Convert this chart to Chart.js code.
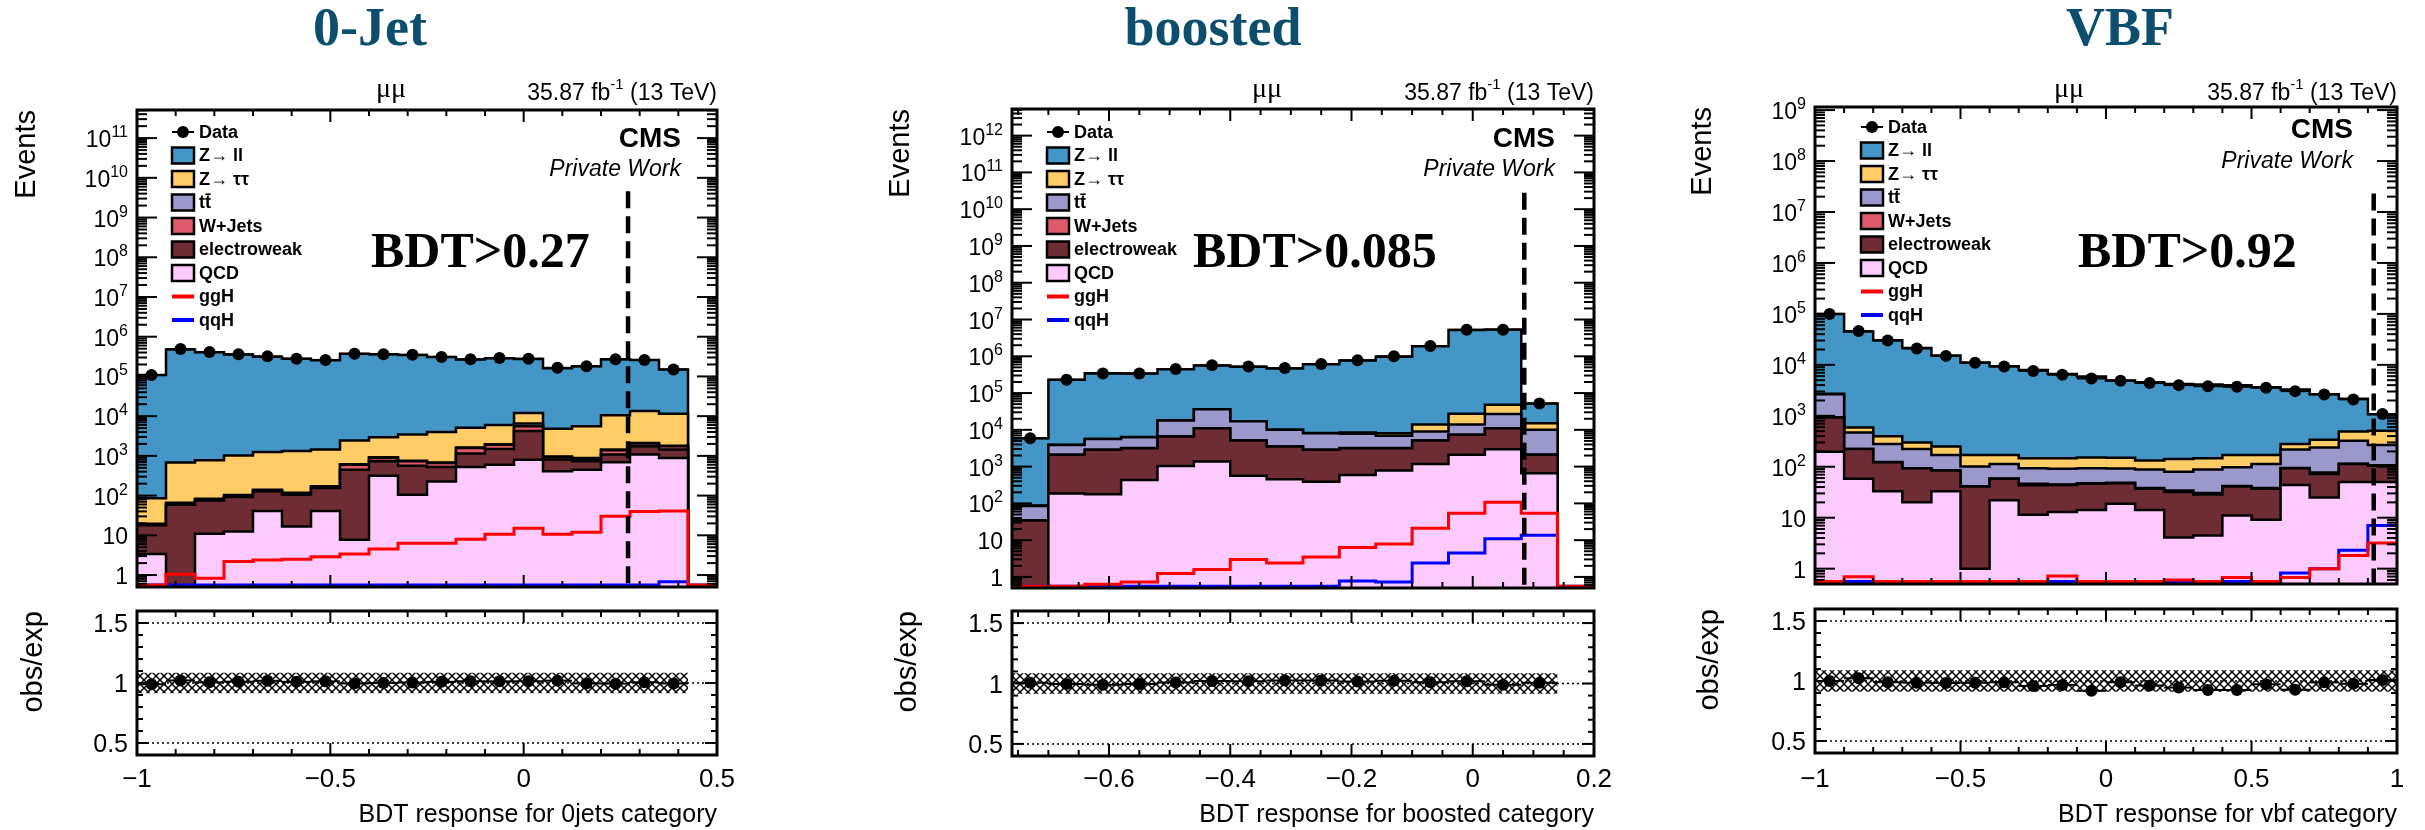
<!DOCTYPE html>
<html>
<head>
<meta charset="utf-8">
<script src="https://cdn.jsdelivr.net/npm/chart.js@4.4.0/dist/chart.umd.min.js"></script>
<style>
html, body { margin: 0; padding: 0; background: #fff; }
#wrap { position: relative; width: 2425px; height: 830px; overflow: hidden; }
#wrap canvas { position: absolute; left: 0; top: 0; }
</style>
</head>
<body>
<div id="wrap"></div>
<script>
// ---------------- data ----------------
// 0-Jet: 20 bins of 0.075 from -1
const jet0Data  = [108000, 490000, 410000, 360000, 320000, 280000, 260000, 370000, 360000, 350000, 310000, 270000, 290000, 280000, 165000, 180000, 270000, 260000, 150000, 0];
const jet0Zll   = [109000, 479000, 407000, 355000, 313000, 276000, 255000, 369000, 357000, 345000, 303000, 261000, 280000, 264000, 157000, 175000, 261000, 245000, 139000, 0];
const jet0Ztt   = [66, 620, 690, 920, 1120, 1200, 1270, 1830, 2030, 2700, 3320, 3470, 4040, 5500, 3840, 4720, 9060, 11300, 9700, 0];
const jet0TT    = [1, 5, 6, 8, 10, 10, 12, 20, 30, 25, 25, 50, 60, 900, 30, 30, 60, 80, 70, 0];
const jet0WJets = [0.5, 2, 2, 3, 3, 3, 4, 150, 160, 165, 135, 440, 410, 1400, 125, 120, 300, 300, 300, 0];
const jet0EWK   = [14.6, 59, 64, 80, 87, 88, 114, 442, 413, 460, 297, 615, 890, 3400, 402, 280, 390, 660, 550, 0];
const jet0QCD   = [3.4, 0, 11, 12.4, 41, 16.6, 41, 7.7, 317, 105, 228, 525, 600, 800, 408, 450, 690, 1080, 890, 0];
const jet0GGH   = [0, 1.04, 0.83, 2.2, 2.4, 2.5, 2.9, 3.4, 4.5, 6.3, 6.3, 8, 10.6, 15, 10.6, 12, 30, 40, 41, 0];
const jet0QQH   = [0, 0, 0, 0, 0, 0, 0, 0, 0, 0, 0, 0, 0, 0, 0, 0, 0, 0, 0.68, 0];

// boosted: 16 bins of 0.06 from -0.76
const boostData  = [5900, 230000, 340000, 340000, 450000, 570000, 530000, 480000, 620000, 780000, 1000000, 1900000, 5300000, 5300000, 52000, 0];
const boostZll   = [5780, 227000, 338000, 335000, 428000, 522000, 503000, 458000, 597000, 759000, 970000, 1865000, 5174000, 5311000, 36700, 0];
const boostZtt   = [2, 30, 40, 50, 100, 200, 100, 80, 60, 700, 1200, 5000, 13500, 21000, 5000, 0];
const boostTT    = [51, 1780, 2710, 3100, 11300, 24900, 11900, 6460, 5210, 4600, 3700, 3850, 6630, 15900, 7880, 0];
const boostWJets = [0, 20, 30, 30, 60, 100, 50, 40, 30, 30, 30, 50, 70, 100, 20, 0];
const boostEWK   = [34, 1910, 2680, 2740, 5560, 9630, 4540, 3050, 2470, 2580, 2390, 3920, 5200, 8050, 1440, 0];
const boostQCD   = [0, 187, 177, 435, 1040, 1370, 560, 450, 390, 590, 780, 1180, 2100, 2950, 660, 0];
const boostGGH   = [0, 0, 0.63, 0.73, 1.23, 1.6, 3.0, 2.4, 3.5, 6.3, 7.8, 21, 54, 108, 54, 0];
const boostQQH   = [0, 0, 0, 0, 0, 0, 0, 0, 0, 0.78, 0.73, 2.4, 4.5, 11, 13.7, 0];

// VBF: 20 bins of 0.1 from -1
const vbfData  = [100000, 46000, 30000, 21000, 15000, 11000, 9300, 7600, 6400, 5400, 4900, 4400, 4000, 3800, 3700, 3550, 3050, 2630, 2100, 1080];
const vbfZll   = [97300, 44400, 29900, 21000, 15000, 11000, 9230, 7780, 6470, 5730, 4800, 4440, 4090, 3960, 3830, 3480, 3010, 2320, 1660, 561];
const vbfZtt   = [50, 120, 115, 78, 81, 68, 57, 54, 56, 58, 58, 44, 62, 59, 72, 57, 63, 100, 167, 242];
const vbfTT    = [1715, 246, 156, 128, 85, 60, 54, 47, 46, 46, 44, 50, 46, 58, 56, 75, 122, 163, 208, 161];
const vbfWJets = [5, 2, 2, 1, 1, 0.5, 1, 3, 1, 1, 1, 1, 2, 2, 1, 1, 2, 5, 2, 2];
const vbfEWK   = [732, 164, 89, 73, 51, 40, 36, 32, 31, 32, 29, 23, 28, 24, 30, 28, 49, 47, 63, 55];
const vbfQCD   = [198, 58, 33, 20, 33, 1.0, 22, 11.4, 12.9, 14.2, 18.7, 14.2, 4.1, 4.5, 11, 9.1, 44, 25, 50, 50];
const vbfGGH   = [0, 0.69, 0, 0, 0, 0, 0, 0, 0.72, 0, 0, 0, 0.6, 0, 0.67, 0, 0.67, 1.0, 1.82, 3.2];
const vbfQQH   = [0, 0, 0, 0, 0, 0, 0, 0, 0, 0, 0, 0, 0, 0, 0, 0, 0.82, 1.0, 2.3, 7.0];

const categoryTitles = ['0-Jet', 'boosted', 'VBF'];
const xTitles = ['BDT response for 0jets category', 'BDT response for boosted category', 'BDT response for vbf category'];
const bdtCuts = [0.27, 0.085, 0.92];
const cutLabels = ['BDT>0.27', 'BDT>0.085', 'BDT>0.92'];
const binLow = [-1, -0.76, -1];
const binWidth = [0.075, 0.06, 0.1];
const xRanges = [[-1, 0.5], [-0.76, 0.2], [-1, 1]];
const xMinorStep = [0.1, 0.05, 0.1];
const jet0XTicks = [-1, -0.5, 0, 0.5];
const boostXTicks = [-0.6, -0.4, -0.2, 0, 0.2];
const vbfXTicks = [-1, -0.5, 0, 0.5, 1];
const ratioTicks = [0.5, 1, 1.5];
const yMaxes = [5.1e11, 5.3e12, 1.15e9];
const cutTops = [4.6e9, 2.8e10, 2.3e7];
const bandErr = [0.085, 0.085, 0.09];
const legendLabels = ['Data', 'Z\u2192 ll', 'Z\u2192 \u03c4\u03c4', 'tt\u0304', 'W+Jets', 'electroweak', 'QCD', 'ggH', 'qqH'];

const Y_MIN = 0.5;
const RATIO_MIN = 0.4, RATIO_MAX = 1.6;

// ---------------- styling / layout ----------------
const W = 2425, H = 830;
const colZll = '#4496c7', colZtt = '#ffcc66', colTT = '#9b99cc', colWJ = '#de5a6a',
      colEWK = '#6e2c35', colQCD = '#fdcafd', colGGH = '#ff0000', colQQH = '#0000ff';
const stackColors = [colQCD, colEWK, colWJ, colTT, colZtt, colZll];
const legendFills = [null, colZll, colZtt, colTT, colWJ, colEWK, colQCD];
const SANS = '"Liberation Sans", Arial, sans-serif';
const SERIF = '"Liberation Serif", "Times New Roman", serif';
const DOT_R = 6;

const layouts = [
  { frame: { left: 137, right: 717, top: 110, bottom: 587 }, ratio: { top: 611, bottom: 755 },
    eventsX: 27, obsX: 34, titleX: 370, mumuX: 391, cmsX: 681, cmsY: 147, pwY: 176, bdtX: 371, legX: 172, legY: 132 },
  { frame: { left: 1012, right: 1594, top: 109, bottom: 588 }, ratio: { top: 611, bottom: 756 },
    eventsX: 901, obsX: 908, titleX: 1213, mumuX: 1267, cmsX: 1555, cmsY: 147, pwY: 176, bdtX: 1193, legX: 1047, legY: 132 },
  { frame: { left: 1815, right: 2397, top: 107, bottom: 584 }, ratio: { top: 609, bottom: 753 },
    eventsX: 1703, obsX: 1710, titleX: 2120, mumuX: 2069, cmsX: 2353, cmsY: 138, pwY: 168, bdtX: 2078, legX: 1861, legY: 127 }
];

const categories = [
  { data: jet0Data, stack: [jet0QCD, jet0EWK, jet0WJets, jet0TT, jet0Ztt, jet0Zll], ggh: jet0GGH, qqh: jet0QQH, xTicks: jet0XTicks },
  { data: boostData, stack: [boostQCD, boostEWK, boostWJets, boostTT, boostZtt, boostZll], ggh: boostGGH, qqh: boostQQH, xTicks: boostXTicks },
  { data: vbfData, stack: [vbfQCD, vbfEWK, vbfWJets, vbfTT, vbfZtt, vbfZll], ggh: vbfGGH, qqh: vbfQQH, xTicks: vbfXTicks }
];

// ---------------- helpers ----------------
function binEdges(lo, width, n) {
  return Array.from({ length: n + 1 }, (_, i) => +(lo + i * width).toFixed(4));
}

// stepped outline of a histogram; empty bins sit on the floor value
function histLine(edges, vals, floor) {
  const pts = vals.map((v, i) => ({ x: edges[i], y: Math.max(v, floor) }));
  pts.push({ x: edges[vals.length], y: Math.max(vals[vals.length - 1], floor) });
  return pts;
}

function xTickList(min, max, step, majors) {
  const out = [];
  for (let k = Math.ceil(min / step - 1e-6); k * step <= max + 1e-9; k++) {
    const v = k * step;
    out.push([v, majors.some(m => Math.abs(m - v) < 1e-6)]);
  }
  return out;
}

function fmt(v) {
  return String(v).replace('-', '\u2212');
}

function seg(ctx, x1, y1, x2, y2) {
  ctx.beginPath(); ctx.moveTo(x1, y1); ctx.lineTo(x2, y2); ctx.stroke();
}

function text(ctx, str, x, y, font, align, base, color) {
  ctx.font = font;
  ctx.textAlign = align || 'left';
  ctx.textBaseline = base || 'alphabetic';
  ctx.fillStyle = color || '#000';
  ctx.fillText(str, x, y);
}

// "10" with a raised exponent, right-aligned at xr
function powerLabel(ctx, exp, xr, y) {
  const big = '23px ' + SANS, small = '16px ' + SANS;
  ctx.textAlign = 'left'; ctx.textBaseline = 'alphabetic'; ctx.fillStyle = '#000';
  ctx.font = small; const we = ctx.measureText(exp).width;
  ctx.font = big; const wb = ctx.measureText('10').width;
  ctx.fillText('10', xr - we - wb, y + 9);
  ctx.font = small; ctx.fillText(exp, xr - we, y - 1);
}

function rotated(ctx, str, cx, topY, font) {
  ctx.save();
  ctx.translate(cx, topY);
  ctx.rotate(-Math.PI / 2);
  text(ctx, str, 0, 0, font, 'right', 'middle');
  ctx.restore();
}

function newCanvas() {
  const c = document.createElement('canvas');
  c.width = W; c.height = H;
  document.getElementById('wrap').appendChild(c);
  return c;
}

function drawXTicks(ctx, a, xs, ticks) {
  ctx.lineWidth = 2;
  ticks.forEach(([v, major]) => {
    const px = xs.getPixelForValue(v), len = major ? 12 : 6;
    seg(ctx, px, a.bottom, px, a.bottom - len);
    seg(ctx, px, a.top, px, a.top + len);
  });
}

function drawDataBars(chart) {
  const ctx = chart.ctx, xs = chart.scales.x, ys = chart.scales.y;
  ctx.save();
  ctx.strokeStyle = '#000'; ctx.lineWidth = 2;
  chart.data.datasets[0].data.forEach(pt => {
    const py = ys.getPixelForValue(pt.y);
    seg(ctx, xs.getPixelForValue(pt.lo), py, xs.getPixelForValue(pt.hi), py);
  });
  ctx.restore();
}

// ---------------- main (log) panel decorations ----------------
function mainDecor(idx) {
  const L = layouts[idx], cat = categories[idx];
  return {
    id: 'mainDecor' + idx,
    afterDatasetsDraw: drawDataBars,
    afterDraw(chart) {
      const ctx = chart.ctx, a = chart.chartArea, xs = chart.scales.x, ys = chart.scales.y;
      const yMax = yMaxes[idx];
      ctx.save();
      ctx.strokeStyle = '#000';
      ctx.lineWidth = 3;
      ctx.strokeRect(a.left, a.top, a.right - a.left, a.bottom - a.top);
      drawXTicks(ctx, a, xs, xTickList(xRanges[idx][0], xRanges[idx][1], xMinorStep[idx], cat.xTicks));

      // log ticks with labels on decades
      ctx.lineWidth = 2;
      for (let d = -1; d <= Math.ceil(Math.log10(yMax)); d++) {
        for (let m = 1; m <= 9; m++) {
          const v = m * Math.pow(10, d);
          if (v <= Y_MIN * 1.001 || v >= yMax) continue;
          const py = ys.getPixelForValue(v), len = m === 1 ? 20 : 10;
          seg(ctx, a.left, py, a.left + len, py);
          seg(ctx, a.right, py, a.right - len, py);
          if (m === 1 && d >= 0) {
            if (d <= 1) text(ctx, d === 0 ? '1' : '10', a.left - 9, py + 9, '23px ' + SANS, 'right');
            else powerLabel(ctx, String(d), a.left - 9, py);
          }
        }
      }

      rotated(ctx, 'Events', L.eventsX, a.top, '29px ' + SANS);

      // header
      text(ctx, categoryTitles[idx], L.titleX, 45, 'bold 54px ' + SERIF, 'center', 'alphabetic', '#0c4e6d');
      text(ctx, '\u03bc\u03bc', L.mumuX, 97, '28px ' + SERIF, 'center');
      ctx.font = '23px ' + SANS;
      const w1 = ctx.measureText('35.87 fb').width, w3 = ctx.measureText(' (13 TeV)').width;
      ctx.font = '15px ' + SANS;
      const w2 = ctx.measureText('-1').width;
      let x0 = a.right - (w1 + w2 + w3);
      text(ctx, '35.87 fb', x0, 100, '23px ' + SANS);
      text(ctx, '-1', x0 + w1, 89, '15px ' + SANS);
      text(ctx, ' (13 TeV)', x0 + w1 + w2, 100, '23px ' + SANS);

      text(ctx, 'CMS', L.cmsX, L.cmsY, 'bold 28px ' + SANS, 'right');
      text(ctx, 'Private Work', L.cmsX, L.pwY, 'italic 23px ' + SANS, 'right');
      text(ctx, cutLabels[idx], L.bdtX, 267, 'bold 50px ' + SERIF);

      // legend
      legendLabels.forEach((lab, i) => {
        const cy = L.legY + i * 23.5, bx = L.legX;
        if (i === 0) {
          ctx.lineWidth = 2; ctx.strokeStyle = '#000';
          seg(ctx, bx, cy, bx + 22, cy);
          ctx.beginPath(); ctx.arc(bx + 11, cy, DOT_R, 0, Math.PI * 2); ctx.fillStyle = '#000'; ctx.fill();
        } else if (i <= 6) {
          ctx.fillStyle = legendFills[i];
          ctx.fillRect(bx, cy - 8, 22, 16);
          ctx.lineWidth = 2.5; ctx.strokeStyle = '#000';
          ctx.strokeRect(bx, cy - 8, 22, 16);
        } else {
          ctx.lineWidth = 4; ctx.strokeStyle = i === 7 ? colGGH : colQQH;
          seg(ctx, bx, cy, bx + 22, cy);
        }
        text(ctx, lab, bx + 27, cy + 1, 'bold 18px ' + SANS, 'left', 'middle');
      });
      ctx.restore();
    }
  };
}

// ---------------- ratio panel decorations ----------------
function ratioDecor(idx) {
  const L = layouts[idx], cat = categories[idx];
  return {
    id: 'ratioDecor' + idx,
    beforeDatasetsDraw(chart) {
      const ctx = chart.ctx, a = chart.chartArea, ys = chart.scales.y;
      ctx.save();
      ctx.strokeStyle = '#000'; ctx.lineWidth = 1.5; ctx.setLineDash([2, 3]);
      ratioTicks.forEach(v => { const py = ys.getPixelForValue(v); seg(ctx, a.left, py, a.right, py); });
      ctx.restore();
    },
    afterDatasetsDraw: drawDataBars,
    afterDraw(chart) {
      const ctx = chart.ctx, a = chart.chartArea, xs = chart.scales.x, ys = chart.scales.y;
      ctx.save();
      ctx.strokeStyle = '#000';
      ctx.lineWidth = 3;
      ctx.strokeRect(a.left, a.top, a.right - a.left, a.bottom - a.top);
      drawXTicks(ctx, a, xs, xTickList(xRanges[idx][0], xRanges[idx][1], xMinorStep[idx], cat.xTicks));
      ctx.lineWidth = 2;
      for (let k = 5; k <= 15; k++) {
        const v = k / 10, major = k % 5 === 0, len = major ? 12 : 6;
        const py = ys.getPixelForValue(v);
        seg(ctx, a.left, py, a.left + len, py);
        seg(ctx, a.right, py, a.right - len, py);
      }
      ratioTicks.forEach(v => text(ctx, String(v), a.left - 9, ys.getPixelForValue(v) + 9, '25px ' + SANS, 'right'));
      cat.xTicks.forEach(v => text(ctx, fmt(v), xs.getPixelForValue(v), 787, '26px ' + SANS, 'center'));
      text(ctx, xTitles[idx], a.right, 822, '25px ' + SANS, 'right');
      rotated(ctx, 'obs/exp', L.obsX, a.top, '29px ' + SANS);
      ctx.restore();
    }
  };
}

// ---------------- build charts ----------------
categories.forEach((cat, idx) => {
  const L = layouts[idx];
  const n = cat.data.length;
  const edges = binEdges(binLow[idx], binWidth[idx], n);

  // cumulative stack, bottom (QCD) to top (Z->ll)
  let run = new Array(n).fill(0);
  const cum = cat.stack.map(s => (run = run.map((r, i) => r + s[i])));
  const total = cum[cum.length - 1];

  const dataPts = [], ratioPts = [];
  let lastBin = 0;
  cat.data.forEach((v, i) => {
    if (v <= 0) return;
    const c = (edges[i] + edges[i + 1]) / 2;
    dataPts.push({ x: c, y: v, lo: edges[i], hi: edges[i + 1] });
    ratioPts.push({ x: c, y: v / total[i], lo: edges[i], hi: edges[i + 1] });
    lastBin = i;
  });

  const mainSets = [
    { data: dataPts, showLine: false, pointRadius: DOT_R, pointBackgroundColor: '#000', pointBorderWidth: 0 },
    { data: [{ x: bdtCuts[idx], y: cutTops[idx] }, { x: bdtCuts[idx], y: Y_MIN }],
      borderColor: '#000', borderWidth: 4.5, borderDash: [17, 8], pointRadius: 0, fill: false },
    { data: histLine(edges, cat.ggh, Y_MIN * 1.12), stepped: true, borderColor: colGGH, borderWidth: 3, pointRadius: 0, fill: false },
    { data: histLine(edges, cat.qqh, Y_MIN * 1.12), stepped: true, borderColor: colQQH, borderWidth: 3, pointRadius: 0, fill: false }
  ];
  cum.forEach((vals, k) => {
    mainSets.push({ data: histLine(edges, vals, Y_MIN), stepped: true, borderColor: '#000', borderWidth: 2.5,
                    backgroundColor: stackColors[k], fill: 'start', pointRadius: 0 });
  });

  const f = L.frame;
  new Chart(newCanvas(), {
    type: 'line',
    data: { datasets: mainSets },
    options: {
      responsive: false, animation: false, devicePixelRatio: 1, events: [],
      layout: { padding: { left: f.left, right: W - f.right, top: f.top, bottom: H - f.bottom } },
      plugins: { legend: { display: false }, tooltip: { enabled: false } },
      scales: {
        x: { type: 'linear', min: xRanges[idx][0], max: xRanges[idx][1], display: false },
        y: { type: 'logarithmic', min: Y_MIN, max: yMaxes[idx], display: false }
      }
    },
    plugins: [mainDecor(idx)]
  });

  // ratio panel with cross-hatched uncertainty band
  const rc = newCanvas();
  const tile = document.createElement('canvas');
  tile.width = 8; tile.height = 8;
  const tg = tile.getContext('2d');
  tg.strokeStyle = '#000'; tg.lineWidth = 1.5;
  tg.beginPath(); tg.moveTo(0, 0); tg.lineTo(8, 8); tg.moveTo(0, 8); tg.lineTo(8, 0); tg.stroke();
  const hatch = rc.getContext('2d').createPattern(tile, 'repeat');

  const bandLo = edges[0], bandHi = edges[lastBin + 1];
  const e = bandErr[idx];
  new Chart(rc, {
    type: 'line',
    data: { datasets: [
      { data: ratioPts, showLine: false, pointRadius: DOT_R, pointBackgroundColor: '#000', pointBorderWidth: 0 },
      { data: [{ x: bandLo, y: 1 + e }, { x: bandHi, y: 1 + e }], borderColor: 'rgba(0,0,0,0)', pointRadius: 0,
        fill: '+1', backgroundColor: hatch },
      { data: [{ x: bandLo, y: 1 - e }, { x: bandHi, y: 1 - e }], borderColor: 'rgba(0,0,0,0)', pointRadius: 0, fill: false }
    ] },
    options: {
      responsive: false, animation: false, devicePixelRatio: 1, events: [],
      layout: { padding: { left: f.left, right: W - f.right, top: L.ratio.top, bottom: H - L.ratio.bottom } },
      plugins: { legend: { display: false }, tooltip: { enabled: false } },
      scales: {
        x: { type: 'linear', min: xRanges[idx][0], max: xRanges[idx][1], display: false },
        y: { type: 'linear', min: RATIO_MIN, max: RATIO_MAX, display: false }
      }
    },
    plugins: [ratioDecor(idx)]
  });
});
</script>
</body>
</html>
